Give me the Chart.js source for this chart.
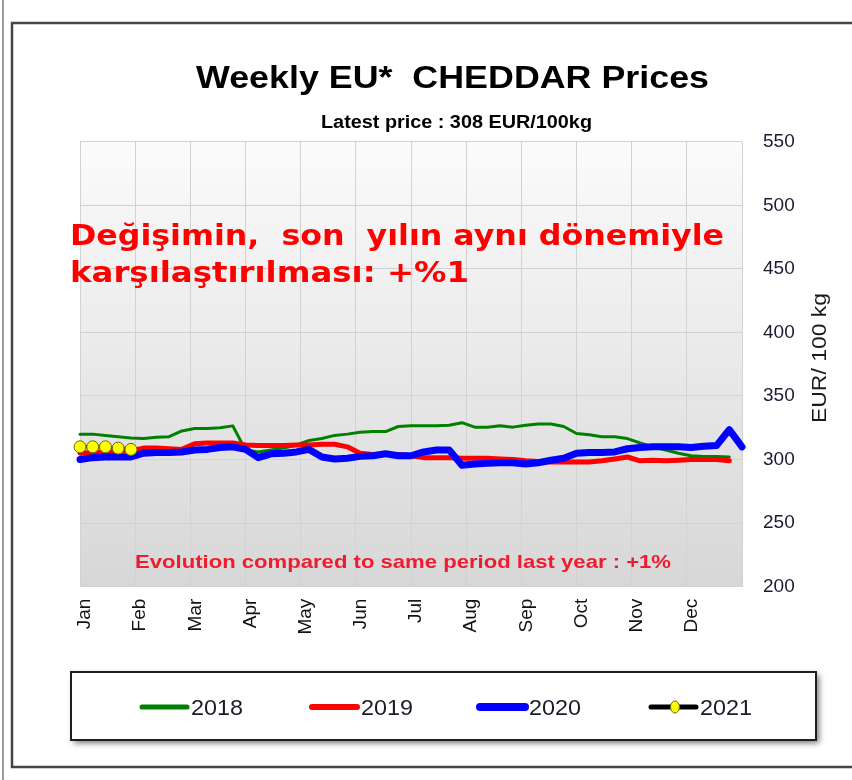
<!DOCTYPE html>
<html>
<head>
<meta charset="utf-8">
<title>Weekly EU* CHEDDAR Prices</title>
<script src="https://cdn.jsdelivr.net/npm/chart.js@4.4.1/dist/chart.umd.min.js"></script>
<style>
  html, body { margin: 0; padding: 0; background: #fff; }
  canvas { display: block; }
</style>
</head>
<body>
<canvas id="cheddarChart" width="852" height="780"></canvas>
<script>
// ---- data (EUR/100 kg, weekly) ----
const months = ['Jan', 'Feb', 'Mar', 'Apr', 'May', 'Jun', 'Jul', 'Aug', 'Sep', 'Oct', 'Nov', 'Dec'];
const yTicks = [200, 250, 300, 350, 400, 450, 500, 550];
const seriesLabels = ['2018', '2019', '2020', '2021'];

const prices2018 = [320, 320, 319, 318, 317, 316.5, 317.5, 318, 322.5, 324.5, 324.5, 325, 326.5,
  307.5, 306, 307.5, 309, 311.5, 315, 316.5, 319, 320, 321.5, 322, 322, 326, 326.5, 326.5, 326.5,
  327, 329, 325.5, 325.5, 326.5, 325.5, 327, 328, 328, 326, 320.5, 319.5, 318, 318, 316.5, 313,
  310, 307.5, 305, 303, 302.5, 302.5, 302];
const prices2019 = [305, 305.5, 306, 306.5, 307, 309, 309, 308.5, 308, 312.5, 313, 313, 313,
  311.5, 311, 311, 311, 311.5, 311.5, 312, 312, 310, 305, 304, 304, 304, 303, 301.5, 301.5,
  301.5, 301, 301, 301, 300.5, 300, 299, 298.5, 298, 298, 298, 298, 299, 300.5, 302, 299,
  299.5, 299, 299.5, 300, 300, 300, 299];
const prices2020 = [300, 301.5, 302, 302, 302, 305, 305.5, 305.5, 306, 307.5, 308, 309.5, 310,
  308, 301.5, 304.5, 305, 306, 308, 302, 300.5, 301, 302.5, 303, 304.5, 303, 303, 306, 307.5,
  307.5, 295.5, 296.5, 297, 297.5, 297.5, 296.5, 297.5, 299.5, 301, 305, 305.5, 305.5, 306,
  308.5, 309.5, 310, 310, 310, 309.5, 310.5, 311, 323.5, 310];
const prices2021 = [310, 310, 310, 309, 308];

const WEEKS = 52;
// month grid positions in weeks (13 lines, last one closes Dec)
const monthTicks = months.map(function (m, i) { return i * WEEKS / months.length; }).concat([WEEKS]);

function toPoints(arr) {
  return arr.map(function (v, i) { return { x: i, y: v }; });
}

// ---- helpers ----
function fitText(ctx, text, left, baseline, width, font, color) {
  ctx.save();
  ctx.font = font;
  ctx.fillStyle = color;
  ctx.textAlign = 'left';
  ctx.textBaseline = 'alphabetic';
  const w = ctx.measureText(text).width;
  ctx.translate(left, baseline);
  ctx.scale(width / w, 1);
  ctx.fillText(text, 0, 0);
  ctx.restore();
}

const NARROW = '"Liberation Sans Narrow", "Arial Narrow", "Liberation Sans", sans-serif';
const PLAIN = '"Liberation Sans", Arial, sans-serif';
const VERDANA = '"DejaVu Sans", Verdana, sans-serif';

// ---- background, frame, plot gradient ----
const backdropPlugin = {
  id: 'backdrop',
  beforeDraw: function (chart) {
    const ctx = chart.ctx;
    const a = chart.chartArea;
    ctx.save();
    ctx.fillStyle = '#ffffff';
    ctx.fillRect(0, 0, chart.width, chart.height);

    // page edge line
    ctx.strokeStyle = '#9a9a9a';
    ctx.lineWidth = 2;
    ctx.beginPath();
    ctx.moveTo(3, 0);
    ctx.lineTo(3, chart.height);
    ctx.stroke();

    // outer frame
    ctx.strokeStyle = '#454545';
    ctx.lineWidth = 2.5;
    ctx.strokeRect(12, 23, 900, 744);

    // plot gradient
    const g = ctx.createLinearGradient(0, a.top, 0, a.bottom);
    g.addColorStop(0, '#fbfbfb');
    g.addColorStop(1, '#d7d7d7');
    ctx.fillStyle = g;
    ctx.fillRect(a.left, a.top, a.right - a.left, a.bottom - a.top);
    ctx.restore();
  }
};

// ---- titles and notes ----
const textPlugin = {
  id: 'notes',
  beforeDatasetsDraw: function (chart) {
    const ctx = chart.ctx;
    fitText(ctx, 'Evolution compared to same period last year : +1%', 135, 568, 536,
      'bold 19px ' + NARROW, '#ee1c2e');
  },
  afterDraw: function (chart) {
    const ctx = chart.ctx;
    fitText(ctx, 'Weekly EU*  CHEDDAR Prices', 196, 88, 513, 'bold 31px ' + NARROW, '#000000');
    fitText(ctx, 'Latest price : 308 EUR/100kg', 321, 128, 271, 'bold 18px ' + NARROW, '#000000');

    fitText(ctx, 'Değişimin,  son  yılın aynı dönemiyle', 70, 245, 654, 'bold 28px ' + VERDANA, '#ff0000');
    fitText(ctx, 'karşılaştırılması: +%1', 70, 282, 399, 'bold 28px ' + VERDANA, '#ff0000');

    // y axis title, reading bottom to top
    ctx.save();
    ctx.translate(820, 358);
    ctx.rotate(-Math.PI / 2);
    ctx.font = '20px ' + PLAIN;
    const t = 'EUR/ 100 kg';
    const w = ctx.measureText(t).width;
    ctx.scale(130 / w, 1);
    ctx.fillStyle = '#1a1a1a';
    ctx.textAlign = 'center';
    ctx.textBaseline = 'middle';
    ctx.fillText(t, 0, 0);
    ctx.restore();
  }
};

// ---- legend box ----
const legendPlugin = {
  id: 'boxLegend',
  afterDraw: function (chart) {
    const ctx = chart.ctx;
    const box = { x: 71, y: 672, w: 745, h: 68 };
    ctx.save();
    ctx.shadowColor = 'rgba(0,0,0,0.55)';
    ctx.shadowBlur = 6;
    ctx.shadowOffsetX = 3;
    ctx.shadowOffsetY = 3;
    ctx.fillStyle = '#ffffff';
    ctx.fillRect(box.x, box.y, box.w, box.h);
    ctx.shadowColor = 'transparent';
    ctx.strokeStyle = '#1e1e1e';
    ctx.lineWidth = 2;
    ctx.strokeRect(box.x, box.y, box.w, box.h);

    const itemX = [140, 310, 478, 649];
    const cy = 707;
    chart.data.datasets.forEach(function (ds, i) {
      const x0 = itemX[i];
      ctx.strokeStyle = ds.borderColor;
      ctx.lineWidth = ds.legendWidth;
      ctx.lineCap = 'round';
      ctx.beginPath();
      ctx.moveTo(x0 + 2, cy);
      ctx.lineTo(x0 + 47, cy);
      ctx.stroke();
      if (ds.pointRadius > 0) {
        ctx.fillStyle = ds.pointBackgroundColor;
        ctx.strokeStyle = ds.pointBorderColor;
        ctx.lineWidth = 1;
        ctx.beginPath();
        ctx.ellipse(x0 + 26, cy, 4.5, 6, 0, 0, Math.PI * 2);
        ctx.fill();
        ctx.stroke();
      }
      fitText(ctx, ds.label, x0 + 51, cy + 8, 52, '22px ' + PLAIN, '#1a1a2a');
    });
    ctx.restore();
  }
};

new Chart(document.getElementById('cheddarChart'), {
  type: 'line',
  data: {
    datasets: [
      { label: seriesLabels[0], data: toPoints(prices2018), borderColor: '#008000', borderWidth: 3,
        legendWidth: 5, pointRadius: 0, order: 4 },
      { label: seriesLabels[1], data: toPoints(prices2019), borderColor: '#ff0000', borderWidth: 5,
        legendWidth: 6, pointRadius: 0, order: 3 },
      { label: seriesLabels[2], data: toPoints(prices2020), borderColor: '#0000ff', borderWidth: 7,
        legendWidth: 8, pointRadius: 0, order: 2 },
      { label: seriesLabels[3], data: toPoints(prices2021), borderColor: '#000000', borderWidth: 3,
        legendWidth: 5, pointRadius: 6, pointBackgroundColor: '#ffff00', pointBorderColor: '#6b6b00',
        pointBorderWidth: 1, order: 1 }
    ]
  },
  options: {
    responsive: false,
    devicePixelRatio: 1,
    animation: false,
    clip: false,
    layout: { padding: { left: 80, top: 141.7, right: 0, bottom: 133.3 } },
    elements: { line: { tension: 0, borderJoinStyle: 'round', borderCapStyle: 'round' } },
    plugins: {
      legend: { display: false },
      tooltip: { enabled: false },
      title: { display: false }
    },
    scales: {
      x: {
        type: 'linear',
        position: 'bottom',
        min: 0,
        max: WEEKS,
        afterBuildTicks: function (scale) {
          scale.ticks = monthTicks.map(function (v) { return { value: v }; });
        },
        afterFit: function (scale) { scale.height = 60; },
        grid: { color: '#d2d2d2', lineWidth: 1, drawTicks: false },
        border: { display: false },
        ticks: {
          autoSkip: false,
          minRotation: 90,
          maxRotation: 90,
          padding: 12,
          labelOffset: 5,
          color: '#111111',
          font: { family: PLAIN, size: 19 },
          callback: function (value, index) { return months[index] || ''; }
        }
      },
      y: {
        position: 'right',
        min: yTicks[0],
        max: yTicks[yTicks.length - 1],
        afterBuildTicks: function (scale) {
          scale.ticks = yTicks.map(function (v) { return { value: v }; });
        },
        afterFit: function (scale) { scale.width = 110; },
        grid: { color: '#d2d2d2', lineWidth: 1, drawTicks: false },
        border: { display: false },
        ticks: {
          padding: 21,
          color: '#1a1a33',
          font: { family: PLAIN, size: 19 }
        }
      }
    }
  },
  plugins: [backdropPlugin, textPlugin, legendPlugin]
});
</script>
</body>
</html>
